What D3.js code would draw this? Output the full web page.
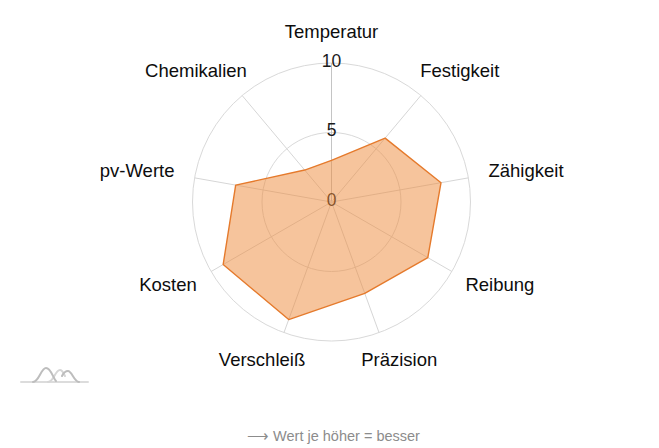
<!DOCTYPE html>
<html>
<head>
<meta charset="utf-8">
<script src="https://cdn.jsdelivr.net/npm/d3@7/dist/d3.min.js"></script>
<style>
  html, body { margin: 0; padding: 0; background: #fff; }
  svg { display: block; font-family: "Liberation Sans", Arial, sans-serif; }
</style>
</head>
<body>
<svg id="chart" width="659" height="448"></svg>
<script>
// ---- data ----
const categories = ["Temperatur", "Festigkeit", "Zähigkeit", "Reibung", "Präzision",
                    "Verschleiß", "Kosten", "pv-Werte", "Chemikalien"];
const values = [3, 6, 8, 8, 7, 9, 9, 7, 3];
const tickValues = [0, 5, 10];
const gridLevels = [5, 10];
const maxValue = 10;
const footnote = "⟶ Wert je höher = besser";

// ---- layout ----
const W = 659, H = 448;
const cx = 331.5, cy = 202, R = 139;
const labelGap = 21;
const textShift = -1.8;
const svg = d3.select("#chart");

const r = d3.scaleLinear().domain([0, maxValue]).range([0, R]);
const angle = d3.scalePoint().domain(categories).range([0, 2 * Math.PI * (1 - 1 / categories.length)]);

const g = svg.append("g").attr("transform", `translate(${cx},${cy})`);

// grid circles
g.selectAll("circle.grid").data(gridLevels).join("circle")
  .attr("class", "grid")
  .attr("r", d => r(d))
  .attr("fill", "none")
  .attr("stroke", "#d9d9d9")
  .attr("stroke-width", 1);

// spokes
g.selectAll("line.spoke").data(categories).join("line")
  .attr("class", "spoke")
  .attr("x1", 0).attr("y1", 0)
  .attr("x2", d => r(maxValue) * Math.sin(angle(d)))
  .attr("y2", d => -r(maxValue) * Math.cos(angle(d)))
  .attr("stroke", d => angle(d) === 0 ? "#c4c4c4" : "#d6d6d6")
  .attr("stroke-width", 1);

// tick labels
g.selectAll("text.tick").data(tickValues).join("text")
  .attr("class", "tick")
  .attr("x", 0)
  .attr("y", d => -r(d) + textShift - 0.5)
  .attr("text-anchor", "middle")
  .attr("dominant-baseline", "central")
  .attr("font-size", 17.5)
  .attr("fill", "#1a1a1a")
  .text(d => d);

// polygon
const radial = d3.lineRadial()
  .angle((d, i) => angle(categories[i]))
  .radius(d => r(d))
  .curve(d3.curveLinearClosed);

g.append("path")
  .datum(values)
  .attr("d", radial)
  .attr("fill", "#ee8a3a")
  .attr("fill-opacity", 0.5)
  .attr("stroke", "#e57a2c")
  .attr("stroke-width", 1.4)
  .attr("stroke-linejoin", "round");

// axis labels
const lh = 18;
g.selectAll("text.cat").data(categories).join("text")
  .attr("class", "cat")
  .attr("text-anchor", "middle")
  .attr("dominant-baseline", "central")
  .attr("font-size", 18.5)
  .attr("fill", "#0d0d0d")
  .text(d => d)
  .each(function(d) {
    const a = angle(d);
    const w = this.getComputedTextLength();
    const rr = R + labelGap;
    const ax = rr * Math.sin(a), ay = -rr * Math.cos(a);
    d3.select(this)
      .attr("x", ax + Math.sin(a) * w / 2)
      .attr("y", ay - Math.cos(a) * lh / 2 + textShift);
  });

// logo
const logo = svg.append("g").attr("fill", "none").attr("stroke-width", 2).attr("stroke-linecap", "round");
logo.append("path").attr("stroke", "#dcdcdc")
  .attr("d", "M21,382 H88");
logo.append("path").attr("stroke", "#d6d6d6")
  .attr("d", "M48,382 C54,382 55,370 60,370 C63,370 64,375 65,376");
logo.append("path").attr("stroke", "#bdbdbd")
  .attr("d", "M33,382 C39,382 41,368 46,368 C51,368 53,378 56,381 M62,376 C64,372 66,371 68,371 C72,371 74,382 79,382");

// footnote
svg.append("text")
  .attr("x", 333.5)
  .attr("y", 440.5)
  .attr("text-anchor", "middle")
  .attr("font-size", 14.5)
  .attr("fill", "#8c8c8c")
  .text(footnote);
</script>
</body>
</html>
